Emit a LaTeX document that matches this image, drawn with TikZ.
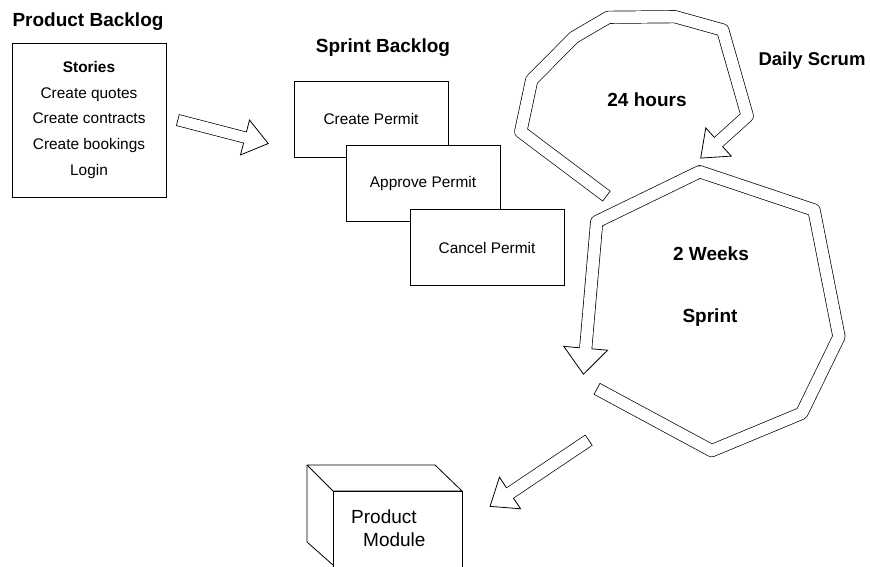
\documentclass[tikz,border=0pt]{standalone}
\usepackage{fontspec}
\setmainfont{Liberation Sans}
\usepackage{tikz}
\usetikzlibrary{calc}

\tikzset{
  title/.style={font=\fontsize{19}{22}\selectfont\bfseries, inner sep=0pt},
  bigtext/.style={font=\fontsize{19}{22}\selectfont, inner sep=0pt, anchor=west},
  card/.style={draw, fill=white, line width=0.8pt, minimum width=154pt, minimum height=76pt,
    font=\fontsize{15.4}{18}\selectfont},
  bandout/.style={line width=13pt, line join=round},
  bandin/.style={white, line width=11.6pt, line join=round, shorten <=0.8pt, shorten >=-2pt},
  headtip/.style={draw, fill=white, line width=0.8pt, line join=miter},
}

% head of a block arrow: #1 point before the base, #2 base, #3 half width, #4 length
\newcommand{\blockhead}[4]{%
  \coordinate (tip) at ($(#2)!-#4!(#1)$);
  \draw[headtip] ($(#2)!#3!90:(tip)$) -- (tip) -- ($(#2)!#3!-90:(tip)$) -- cycle;
}

\begin{document}
\begin{tikzpicture}[x=1pt, y=-1pt]
\clip (0,0) rectangle (870,567);

% product backlog
\node[title] (pbtitle) at (88,22) {Product Backlog};
\node[draw, line width=0.8pt, minimum width=154pt, minimum height=154pt, align=center,
  font=\fontsize{15.4}{25.7}\selectfont] (stories) at (89,120)
  {\textbf{Stories}\\Create quotes\\Create contracts\\Create bookings\\Login};

% sprint backlog
\node[title] (sbtitle) at (383,48) {Sprint Backlog};
\node[card] (create) at (371,119) {Create Permit};
\node[card] (approve) at (423,183.5) {Approve Permit};
\node[card] (cancel) at (487,247.5) {Cancel Permit};

% backlog to sprint backlog
\coordinate (p0) at (177.5,120);
\coordinate (p1) at (245,137.5);
\draw[bandout, line width=12pt] (p0) -- (p1);
\blockhead{p0}{p1}{18pt}{24pt}
\draw[bandin, line width=10.6pt] (p0) -- (p1);

% daily scrum loop
\coordinate (d0) at (606.7,196.3);
\coordinate (d1) at (520.7,131.7);
\coordinate (d2) at (531.7,80);
\coordinate (d3) at (574,37.3);
\coordinate (d4) at (608.3,17.3);
\coordinate (d5) at (675,16.7);
\coordinate (d6) at (722.7,30);
\coordinate (d7) at (747.3,116);
\coordinate (d8) at (718.5,142);
\draw[bandout] (d0) -- (d1) -- (d2) -- (d3) -- (d4) -- (d5) -- (d6) -- (d7) -- (d8);
\blockhead{d7}{d8}{19pt}{24pt}
\draw[bandin] (d0) -- (d1) -- (d2) -- (d3) -- (d4) -- (d5) -- (d6) -- (d7) -- (d8);

\node[title, font=\fontsize{18.5}{22}\selectfont\bfseries] (daily) at (812,61) {Daily Scrum};
\node[title] (hours) at (647,100) {24 hours};

% sprint loop
\coordinate (s0) at (596.7,388.7);
\coordinate (s1) at (711.7,450.7);
\coordinate (s2) at (801.7,413.3);
\coordinate (s3) at (839,336.7);
\coordinate (s4) at (814,210);
\coordinate (s5) at (699.7,171.7);
\coordinate (s6) at (596.7,221.7);
\coordinate (s7) at (585.7,348.3);
\draw[bandout] (s0) -- (s1) -- (s2) -- (s3) -- (s4) -- (s5) -- (s6) -- (s7);
\blockhead{s6}{s7}{22pt}{26pt}
\draw[bandin] (s0) -- (s1) -- (s2) -- (s3) -- (s4) -- (s5) -- (s6) -- (s7);

\node[title] (weeks) at (711,254) {2 Weeks};
\node[title] (sprint) at (710,318) {Sprint};

% sprint to product module
\coordinate (b0) at (589,440);
\coordinate (b1) at (510,493);
\draw[bandout] (b0) -- (b1);
\blockhead{b0}{b1}{19pt}{24pt}
\draw[bandin] (b0) -- (b1);

% product module
\draw[line width=0.8pt, line join=round] (307,465) -- (435,465) -- (462,491) -- (333,491) -- cycle;
\draw[line width=0.8pt, line join=round] (307,465) -- (307,542) -- (333,565);
\draw[line width=0.8pt] (333,491) rectangle (462,600);
\node[bigtext] (product) at (351,517) {Product};
\node[bigtext] (module) at (363,540) {Module};
\end{tikzpicture}
\end{document}
